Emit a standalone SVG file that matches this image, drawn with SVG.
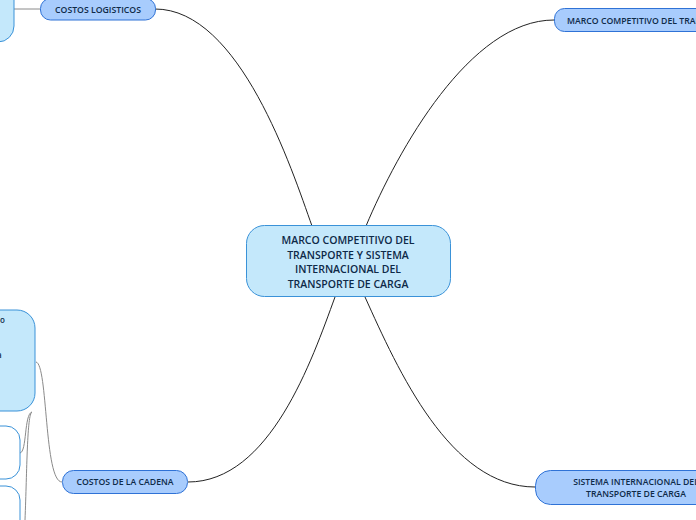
<svg xmlns="http://www.w3.org/2000/svg" width="696" height="520" viewBox="0 0 696 520">
<style>
.main{fill:#c4e8fb;stroke:#3a92d8;stroke-width:1}
.br{fill:#a8ccfd;stroke:#2f72d6;stroke-width:1}
.sub{fill:#c4e8fb;stroke:#3a92d8;stroke-width:1}
.subw{fill:#ffffff;stroke:#3a92d8;stroke-width:1}
text{font-family:"Open Sans","Noto Sans","Liberation Sans",sans-serif;fill:#0e2a48;font-weight:600}
.t1{font-size:10.500px;text-anchor:middle}
.t2{font-size:8.700px;text-anchor:middle}
.c{fill:none;stroke:#222;stroke-width:1}
.g{fill:none;stroke:#8a8a8a;stroke-width:1}
</style>
<rect width="696" height="520" fill="#ffffff"/>
<g id="connectors">
<path class="c" d="M155,9 C240,9 292,170 312,226"/>
<path class="c" d="M554,20 C470,20 398,150 366,226"/>
<path class="c" d="M188,482 C270,482 312,360 335,297"/>
<path class="c" d="M535,487 C450,487 398,370 365,297"/>
<path class="g" d="M14,9 L40,9"/>
<path class="g" d="M36,362 C48,364 44,482 62,482"/>
<path class="g" d="M20,453 C27,452 24,414 32,412"/>
<path class="g" d="M32,412 C27,414 27,470 25,520"/>
</g>
<g id="panel-top-left">
<rect class="sub" x="-30" y="-20" width="44" height="62" rx="16"/>
</g>
<g id="panel-mid-left">
<rect class="sub" x="-40" y="310" width="75" height="101" rx="18"/>
<text x="0" y="323" style="font-size:8px">o</text>
<text x="-3" y="358" style="font-size:8px">a</text>
</g>
<g id="panel-low-left-1">
<rect class="subw" x="-30" y="426" width="50" height="53" rx="14"/>
</g>
<g id="panel-low-left-2">
<rect class="subw" x="-30" y="486" width="50" height="60" rx="14"/>
</g>
<g id="center">
<rect class="main" x="246.500" y="225.500" width="204" height="71" rx="18"/>
<text class="t1" x="348" y="244">MARCO COMPETITIVO DEL</text>
<text class="t1" x="348" y="259">TRANSPORTE Y SISTEMA</text>
<text class="t1" x="348" y="273">INTERNACIONAL DEL</text>
<text class="t1" x="348" y="288">TRANSPORTE DE CARGA</text>
</g>
<g id="costos-logisticos">
<rect class="br" x="40.500" y="-1.500" width="115" height="21.500" rx="10"/>
<text class="t2" x="98" y="12.500">COSTOS LOGISTICOS</text>
</g>
<g id="marco-competitivo">
<rect class="br" x="554.500" y="8.500" width="160" height="23" rx="10"/>
<text x="567" y="23.500" style="font-size:8.700px">MARCO COMPETITIVO DEL TRANSPORTE</text>
</g>
<g id="costos-cadena">
<rect class="br" x="62.500" y="470.500" width="125" height="23" rx="11"/>
<text class="t2" x="125" y="485">COSTOS DE LA CADENA</text>
</g>
<g id="sistema-internacional">
<rect class="br" x="535.500" y="470.500" width="180" height="34" rx="15"/>
<text class="t2" x="636" y="485">SISTEMA INTERNACIONAL DEL</text>
<text class="t2" x="636" y="497">TRANSPORTE DE CARGA</text>
</g>
</svg>
